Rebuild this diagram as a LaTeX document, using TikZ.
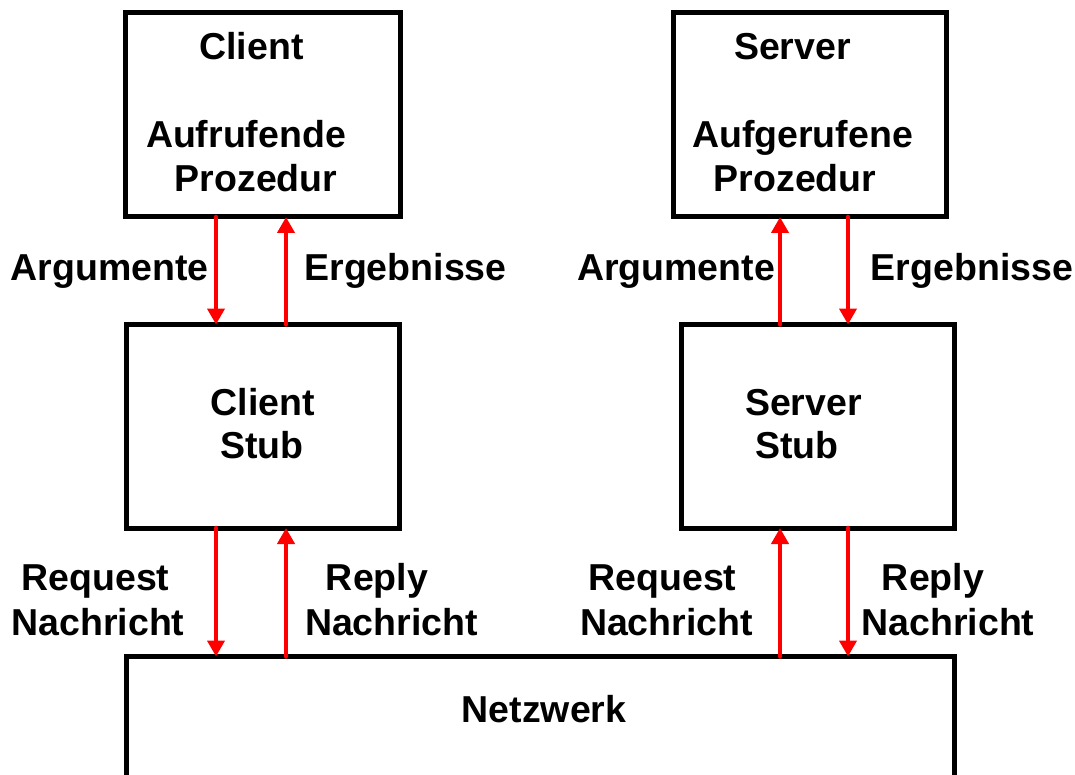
\documentclass[tikz,border=0pt]{standalone}
\usepackage{fontspec}
\setmainfont{Liberation Sans}
\usetikzlibrary{arrows.meta}
\begin{document}
\begin{tikzpicture}[x=1pt,y=-1pt,
  box/.style={draw=black,line width=5pt,rectangle,inner sep=0pt,outer sep=0pt},
  lbl/.style={font=\fontsize{37.5}{44}\selectfont\bfseries,anchor=base,inner sep=0pt},
  arr/.style={draw=red,line width=4.5pt,line cap=round,-{Triangle[width=17pt,length=16pt]}}]
\path[use as bounding box] (0,0) rectangle (1075,775);
\clip (0,0) rectangle (1075,775);
% boxes
\node[box,minimum width=274.5pt,minimum height=204.5pt] (client) at (262.75,114.75) {};
\node[box,minimum width=272.5pt,minimum height=204.5pt] (server) at (809.75,114.75) {};
\node[box,minimum width=273pt,minimum height=203.5pt] (cstub) at (263,426.25) {};
\node[box,minimum width=273pt,minimum height=203.5pt] (sstub) at (818,426.25) {};
\node[box,minimum width=828pt,minimum height=143.5pt] (net) at (540.5,728.25) {};
% box texts
\node[lbl] (tclient) at (251.5,60) {Client};
\node[lbl] (tauf) at (246,148) {Aufrufende};
\node[lbl] (tproz1) at (256,192) {Prozedur};
\node[lbl] (tserver) at (792.5,60) {Server};
\node[lbl] (taufg) at (802.5,148) {Aufgerufene};
\node[lbl] (tproz2) at (795,192) {Prozedur};
\node[lbl] (tcs1) at (263,415) {Client};
\node[lbl] (tcs2) at (262,458) {Stub};
\node[lbl] (tss1) at (803.5,415) {Server};
\node[lbl] (tss2) at (797,458) {Stub};
\node[lbl] (tnet) at (544,722) {Netzwerk};
% x positions of connectors
\coordinate (xa) at (216,0);
\coordinate (xb) at (286,0);
\coordinate (xc) at (780,0);
\coordinate (xd) at (848,0);
% connectors
\draw[arr] (client.south -| xa) -- (cstub.north -| xa);
\draw[arr] (cstub.north -| xb) -- (client.south -| xb);
\draw[arr] (sstub.north -| xc) -- (server.south -| xc);
\draw[arr] (server.south -| xd) -- (sstub.north -| xd);
\draw[arr] (cstub.south -| xa) -- (net.north -| xa);
\draw[arr] (net.north -| xb) -- (cstub.south -| xb);
\draw[arr] (net.north -| xc) -- (sstub.south -| xc);
\draw[arr] (sstub.south -| xd) -- (net.north -| xd);
% connector labels
\node[lbl] (l1) at (109.5,281) {Argumente};
\node[lbl] (l2) at (405.5,281) {Ergebnisse};
\node[lbl] (l3) at (676,281) {Argumente};
\node[lbl] (l4) at (972,281) {Ergebnisse};
\node[lbl] (l5a) at (95.5,590) {Request};
\node[lbl] (l5b) at (98,635) {Nachricht};
\node[lbl] (l6a) at (377,590) {Reply};
\node[lbl] (l6b) at (391.5,635) {Nachricht};
\node[lbl] (l7a) at (662.5,590) {Request};
\node[lbl] (l7b) at (666.5,635) {Nachricht};
\node[lbl] (l8a) at (933,590) {Reply};
\node[lbl] (l8b) at (948,635) {Nachricht};
\end{tikzpicture}
\end{document}
